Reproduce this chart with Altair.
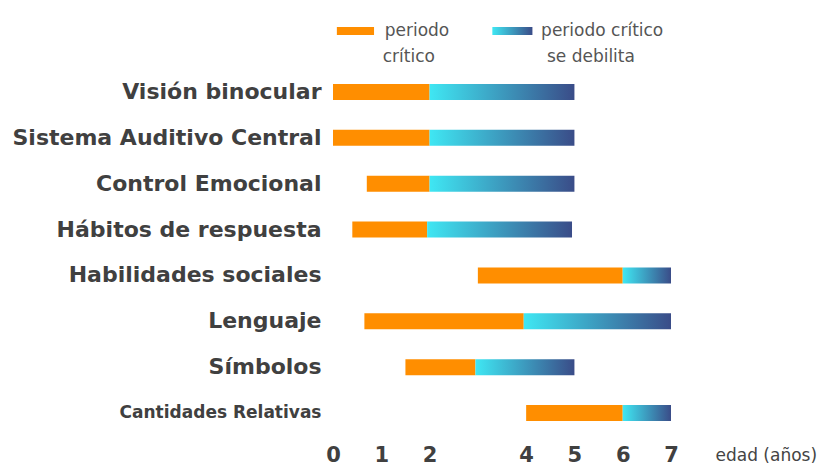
import altair as alt
import pandas as pd

categories = ["Visión binocular", "Sistema Auditivo Central", "Control Emocional",
              "Hábitos de respuesta", "Habilidades sociales", "Lenguaje",
              "Símbolos", "Cantidades Relativas"]
crit_start = [0, 0, 0.7, 0.4, 3, 0.65, 1.5, 4]
crit_end = [2, 2, 2, 1.95, 6, 3.95, 2.95, 6]
weak_end = [5, 5, 5, 4.95, 7, 7, 5, 7]
tick_values = [0, 1, 2, 4, 5, 6, 7]

# legend (x positions in years, along the same axis)
leg_sw_start = [0.08, 3.3]
leg_sw_end = [0.85, 4.13]
leg_sw_kind = ["critico", "debil"]
leg_text = ["periodo", "crítico", "periodo crítico", "se debilita"]
leg_text_x = [1.07, 1.03, 4.31, 4.43]
leg_text_line = [0, 1, 0, 1]

ORANGE = "#FF8E00"
grad = alt.Gradient(
    gradient="linear",
    stops=[alt.GradientStop(color="#3FE7F3", offset=0),
           alt.GradientStop(color="#3A4C88", offset=1)],
    x1=0, x2=1, y1=0, y2=0,
)

df = pd.DataFrame({"cat": categories, "s": crit_start, "e": crit_end, "w": weak_end})
sw = pd.DataFrame({"s": leg_sw_start, "e": leg_sw_end, "k": leg_sw_kind})
lt = pd.DataFrame({"t": leg_text, "x": leg_text_x, "line": leg_text_line})

FONT = "DejaVu Sans"
xscale = alt.Scale(domain=[0, 7], nice=False, zero=False)
yscale = alt.Scale(domain=categories, paddingInner=0, paddingOuter=0)

xaxis = alt.Axis(values=tick_values, format="d", domain=False, ticks=False, grid=False,
                 labelFlush=False, labelFontWeight="bold",
                 labelFontSize=21, labelColor="#404040", labelFont=FONT, labelPadding=8,
                 title="edad (años)", titleFont=FONT, titleFontSize=17,
                 titleFontWeight="normal", titleColor="#444444",
                 titleAlign="left", titleBaseline="middle", titleX=382, titleY=19,
                 titleAnchor="start")
yaxis = alt.Axis(domain=False, ticks=False, grid=False, title=None,
                 labelFont=FONT, labelColor="#404040", labelPadding=12,
                 labelLimit=0, labelFontWeight="bold",
                 labelFontSize={"condition": {"test": "datum.value === 'Cantidades Relativas'",
                                              "value": 17}, "value": 22})

base = alt.Chart(df)
orange = base.mark_bar(color=ORANGE, height=16).encode(
    x=alt.X("s:Q", scale=xscale, axis=xaxis),
    x2="e:Q",
    y=alt.Y("cat:N", scale=yscale, axis=yaxis, sort=categories),
)
weak = base.mark_bar(color=grad, height=16).encode(
    x=alt.X("e:Q", scale=xscale),
    x2="w:Q",
    y=alt.Y("cat:N", scale=yscale, sort=categories),
)

sw_o = alt.Chart(sw).transform_filter("datum.k === 'critico'").mark_bar(color=ORANGE).encode(
    x=alt.X("s:Q", scale=xscale), x2="e:Q", y=alt.value(-42), y2=alt.value(-34))
sw_b = alt.Chart(sw).transform_filter("datum.k === 'debil'").mark_bar(color=grad).encode(
    x=alt.X("s:Q", scale=xscale), x2="e:Q", y=alt.value(-42), y2=alt.value(-34))
txt0 = alt.Chart(lt).transform_filter("datum.line === 0").mark_text(
    font=FONT, fontSize=17, color="#555555", align="left", baseline="middle").encode(
    x=alt.X("x:Q", scale=xscale), y=alt.value(-38), text="t:N")
txt1 = alt.Chart(lt).transform_filter("datum.line === 1").mark_text(
    font=FONT, fontSize=17, color="#555555", align="left", baseline="middle").encode(
    x=alt.X("x:Q", scale=xscale), y=alt.value(-12), text="t:N")

chart = alt.layer(orange, weak, sw_o, sw_b, txt0, txt1).properties(
    width=338, height=367,
    autosize=alt.AutoSizeParams(type="none"),
    padding={"left": 333, "top": 69, "right": 162, "bottom": 34},
    background="white",
).configure_view(stroke=None)

chart.save("out.html", embed_options={"renderer": "svg", "actions": False})
